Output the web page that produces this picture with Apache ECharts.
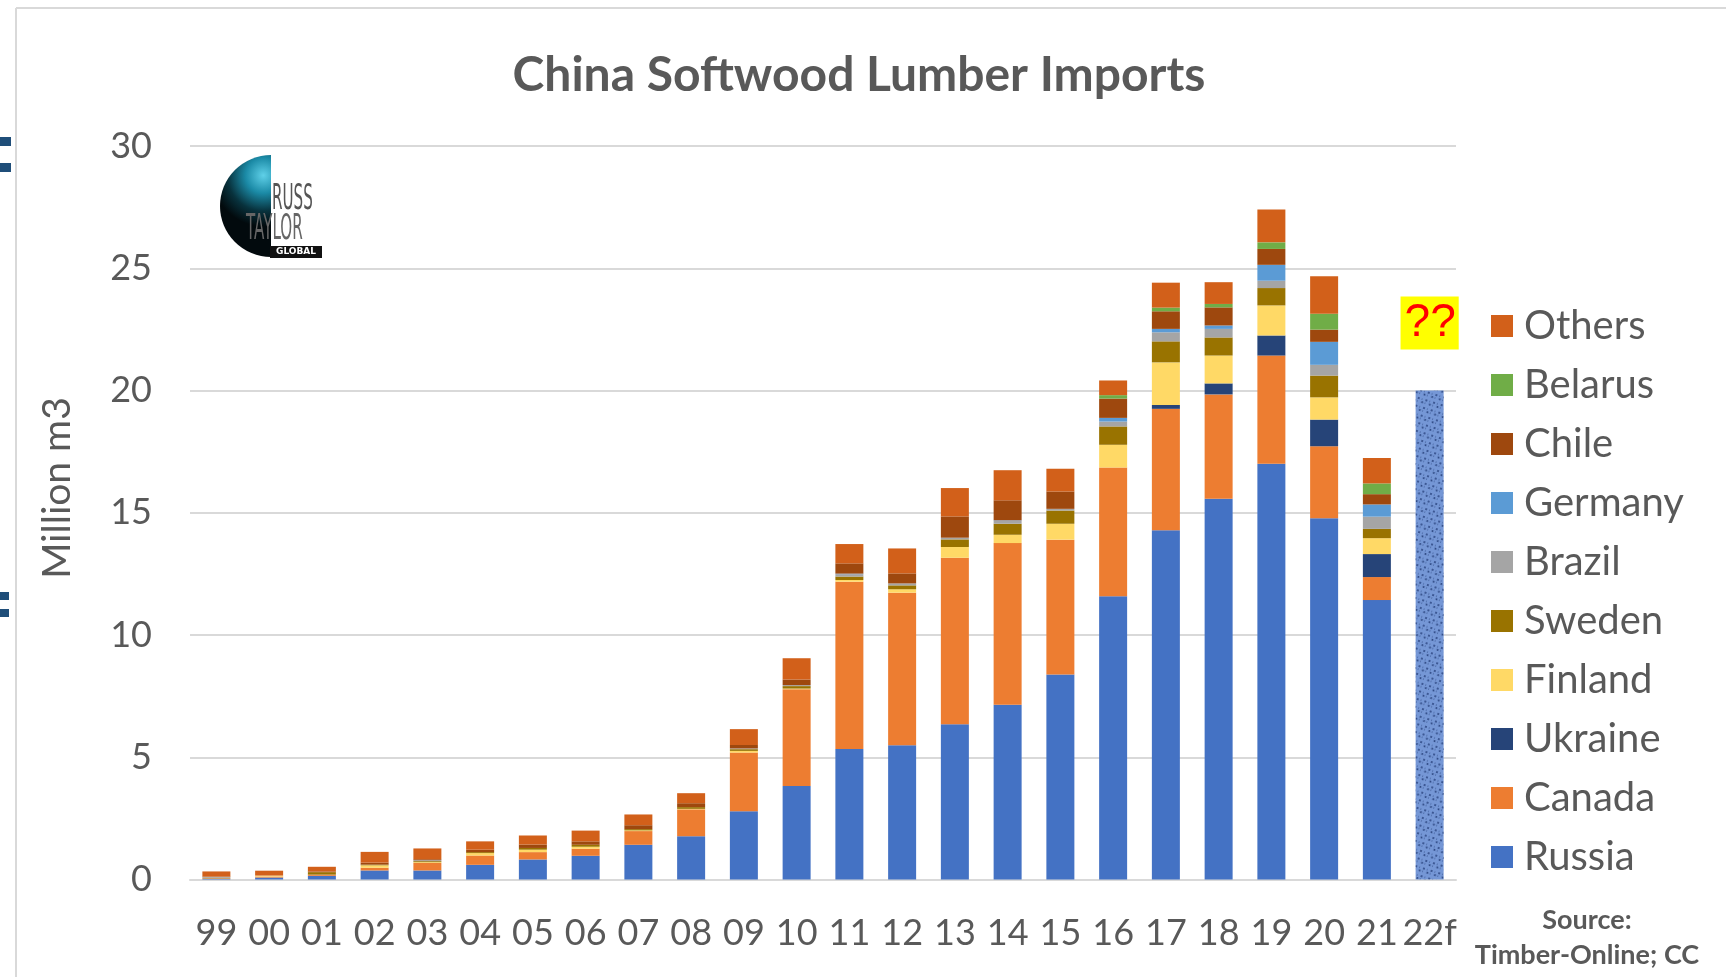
<!DOCTYPE html>
<html>
<head>
    <meta charset="utf-8">
    <title>China Softwood Lumber Imports</title>
    <script src="https://cdn.jsdelivr.net/npm/echarts@6.0.0/dist/echarts.min.js"></script>
    <style>
        html, body { margin: 0; padding: 0; background: #fff; }
        #chart { width: 1726px; height: 977px; }
    </style>
</head>
<body>
<div id="chart"></div>
<script type="text/javascript">
    // 年份 (x 轴)
    var years = ['99', '00', '01', '02', '03', '04', '05', '06', '07', '08', '09', '10',
        '11', '12', '13', '14', '15', '16', '17', '18', '19', '20', '21', '22f'];

    // 各来源国进口量, million m3
    var russia  = [0.03, 0.08, 0.15, 0.37, 0.37, 0.60, 0.82, 0.97, 1.42, 1.77, 2.79, 3.82, 5.34, 5.49, 6.35, 7.15, 8.38, 11.58, 14.28, 15.57, 17.00, 14.77, 11.43, null];
    var canada  = [0.02, 0.04, 0.05, 0.11, 0.31, 0.38, 0.30, 0.29, 0.56, 1.10, 2.40, 3.96, 6.84, 6.24, 6.81, 6.61, 5.52, 5.27, 4.97, 4.27, 4.43, 2.95, 0.94, null];
    var ukraine = [0, 0, 0, 0, 0, 0, 0, 0, 0, 0, 0, 0, 0, 0, 0, 0, 0, 0, 0.16, 0.45, 0.82, 1.09, 0.94, null];
    var finland = [0, 0.04, 0, 0.10, 0.03, 0.10, 0.10, 0.08, 0.03, 0.02, 0.07, 0.03, 0.07, 0.14, 0.44, 0.34, 0.65, 0.93, 1.74, 1.14, 1.23, 0.91, 0.65, null];
    var sweden  = [0.02, 0, 0.10, 0.03, 0.04, 0.04, 0.07, 0.08, 0.05, 0.07, 0.07, 0.10, 0.14, 0.16, 0.31, 0.45, 0.54, 0.75, 0.86, 0.74, 0.71, 0.89, 0.38, null];
    var brazil  = [0.03, 0, 0, 0, 0.04, 0, 0, 0, 0, 0, 0.03, 0.04, 0.10, 0.08, 0.07, 0.12, 0.07, 0.20, 0.37, 0.35, 0.30, 0.44, 0.50, null];
    var germany = [0, 0, 0, 0, 0, 0, 0, 0, 0, 0, 0, 0, 0.02, 0, 0, 0.02, 0, 0.15, 0.14, 0.14, 0.65, 0.94, 0.50, null];
    var chile   = [0.02, 0, 0.03, 0.08, 0.04, 0.10, 0.14, 0.14, 0.16, 0.16, 0.14, 0.23, 0.42, 0.41, 0.87, 0.82, 0.71, 0.79, 0.72, 0.74, 0.65, 0.50, 0.42, null];
    var belarus = [0, 0, 0, 0, 0, 0, 0, 0, 0, 0, 0, 0, 0, 0, 0, 0, 0, 0.14, 0.15, 0.14, 0.27, 0.65, 0.44, null];
    var others  = [0.21, 0.20, 0.19, 0.44, 0.44, 0.34, 0.37, 0.44, 0.44, 0.41, 0.65, 0.87, 0.79, 1.02, 1.16, 1.23, 0.93, 0.60, 1.02, 0.89, 1.34, 1.53, 1.04, null];
    // 2022 预测
    var forecast = [null, null, null, null, null, null, null, null, null, null, null, null,
        null, null, null, null, null, null, null, null, null, null, null, 20];

    var yTicks = [0, 5, 10, 15, 20, 25, 30];

    var seriesNames  = ['Russia', 'Canada', 'Ukraine', 'Finland', 'Sweden', 'Brazil', 'Germany', 'Chile', 'Belarus', 'Others'];
    var seriesData   = [russia, canada, ukraine, finland, sweden, brazil, germany, chile, belarus, others];
    var seriesColors = ['#4472C4', '#ED7D31', '#264478', '#FFD966', '#997300', '#A5A5A5', '#5B9BD5', '#9E480E', '#70AD47', '#D2601A'];

    var txt = '#595959';
    var font = 'Lato';

    var series = seriesNames.map(function (name, i) {
        return {
            name: name,
            type: 'bar',
            stack: 'total',
            barWidth: 28,
            data: seriesData[i],
            itemStyle: { color: seriesColors[i] },
            emphasis: { disabled: true }
        };
    });

    series.push({
        name: '2022f',
        type: 'bar',
        stack: 'total',
        barWidth: 28,
        data: forecast,
        itemStyle: {
            color: '#7597D6',
            decal: {
                symbol: 'circle',
                symbolSize: 1,
                color: 'rgba(22, 46, 104, 0.8)',
                dashArrayX: [[2, 2, 1, 3], [1, 3, 3, 1]],
                dashArrayY: [2, 1, 2, 3],
                rotation: 0.3
            }
        },
        label: {
            show: true,
            position: 'top',
            distance: 41,
            formatter: '??',
            color: '#FF0000',
            fontFamily: 'Liberation Sans',
            fontSize: 46,
            backgroundColor: '#FFFF00',
            padding: [4, 3, 3, 4]
        },
        emphasis: { disabled: true }
    });

    var myChart = echarts.init(document.getElementById('chart'));

    myChart.setOption({
        animation: false,
        backgroundColor: '#fff',
        title: {
            text: 'China Softwood Lumber Imports',
            left: 854,
            top: 47,
            textAlign: 'center',
            textStyle: { color: txt, fontFamily: font, fontWeight: 'bold', fontSize: 48 }
        },
        legend: {
            orient: 'vertical',
            left: 1486,
            top: 301,
            icon: 'rect',
            itemWidth: 22,
            itemHeight: 22,
            itemGap: 19,
            selectedMode: false,
            data: seriesNames.slice().reverse(),
            textStyle: { color: txt, fontFamily: font, fontSize: 40, lineHeight: 40, padding: [0, 0, 0, 6] }
        },
        grid: { left: 190, right: 270, top: 146, bottom: 97.5, containLabel: false },
        xAxis: {
            type: 'category',
            data: years,
            axisLine: { lineStyle: { color: '#D9D9D9', width: 2 } },
            axisTick: { show: false },
            axisLabel: { interval: 0, color: txt, fontFamily: font, fontSize: 36, margin: 36 }
        },
        yAxis: {
            type: 'value',
            min: yTicks[0],
            max: yTicks[yTicks.length - 1],
            interval: 5,
            axisLine: { show: false },
            axisTick: { show: false },
            splitLine: { lineStyle: { color: '#D9D9D9', width: 2 } },
            axisLabel: { color: txt, fontFamily: font, fontSize: 36, margin: 38 }
        },
        graphic: [
            // 外框
            { type: 'line', shape: { x1: 16, y1: 8, x2: 1726, y2: 8 }, style: { stroke: '#D9D9D9', lineWidth: 2 } },
            { type: 'line', shape: { x1: 16, y1: 8, x2: 16, y2: 977 }, style: { stroke: '#D9D9D9', lineWidth: 2 } },
            // 左边的小方块
            { type: 'rect', shape: { x: 0, y: 137, width: 11, height: 9 }, style: { fill: '#1F4E79' } },
            { type: 'rect', shape: { x: 0, y: 163, width: 11, height: 9 }, style: { fill: '#1F4E79' } },
            { type: 'rect', shape: { x: 0, y: 592, width: 9, height: 8 }, style: { fill: '#1F4E79' } },
            { type: 'rect', shape: { x: 0, y: 609, width: 9, height: 8 }, style: { fill: '#1F4E79' } },
            // y 轴名称
            {
                type: 'text', x: 57, y: 488, rotation: Math.PI / 2,
                style: { text: 'Million m3', fill: txt, font: '39px Lato', textAlign: 'center', textVerticalAlign: 'middle' }
            },
            // logo
            {
                type: 'sector',
                shape: { cx: 271, cy: 206, r: 51, startAngle: Math.PI / 2, endAngle: Math.PI * 3 / 2 },
                style: {
                    fill: new echarts.graphic.RadialGradient(0.85, 0.2, 1.0, [
                        { offset: 0, color: '#5fd0e8' },
                        { offset: 0.35, color: '#1b8aa6' },
                        { offset: 0.7, color: '#08323d' },
                        { offset: 1, color: '#020a0d' }
                    ])
                }
            },
            {
                type: 'text', x: 272, y: 182, scaleX: 0.42,
                style: { text: 'RUSS', fill: '#555', font: '36px "DejaVu Sans"', textAlign: 'left', textVerticalAlign: 'top' }
            },
            {
                type: 'text', x: 246, y: 212, scaleX: 0.42,
                style: { text: 'TAYLOR', fill: '#666', font: '36px "DejaVu Sans"', textAlign: 'left', textVerticalAlign: 'top' }
            },
            { type: 'rect', shape: { x: 270, y: 246, width: 52, height: 12 }, style: { fill: '#111' } },
            {
                type: 'text', x: 296, y: 252,
                style: { text: 'GLOBAL', fill: '#fff', font: 'bold 9px "DejaVu Sans"', textAlign: 'center', textVerticalAlign: 'middle' }
            },
            // 数据来源
            {
                type: 'text', x: 1587, y: 920,
                style: { text: 'Source:', fill: txt, font: 'bold 27px Lato', textAlign: 'center', textVerticalAlign: 'middle' }
            },
            {
                type: 'text', x: 1587, y: 955,
                style: { text: 'Timber-Online; CC', fill: txt, font: 'bold 27px Lato', textAlign: 'center', textVerticalAlign: 'middle' }
            }
        ],
        series: series
    });
</script>
</body>
</html>
